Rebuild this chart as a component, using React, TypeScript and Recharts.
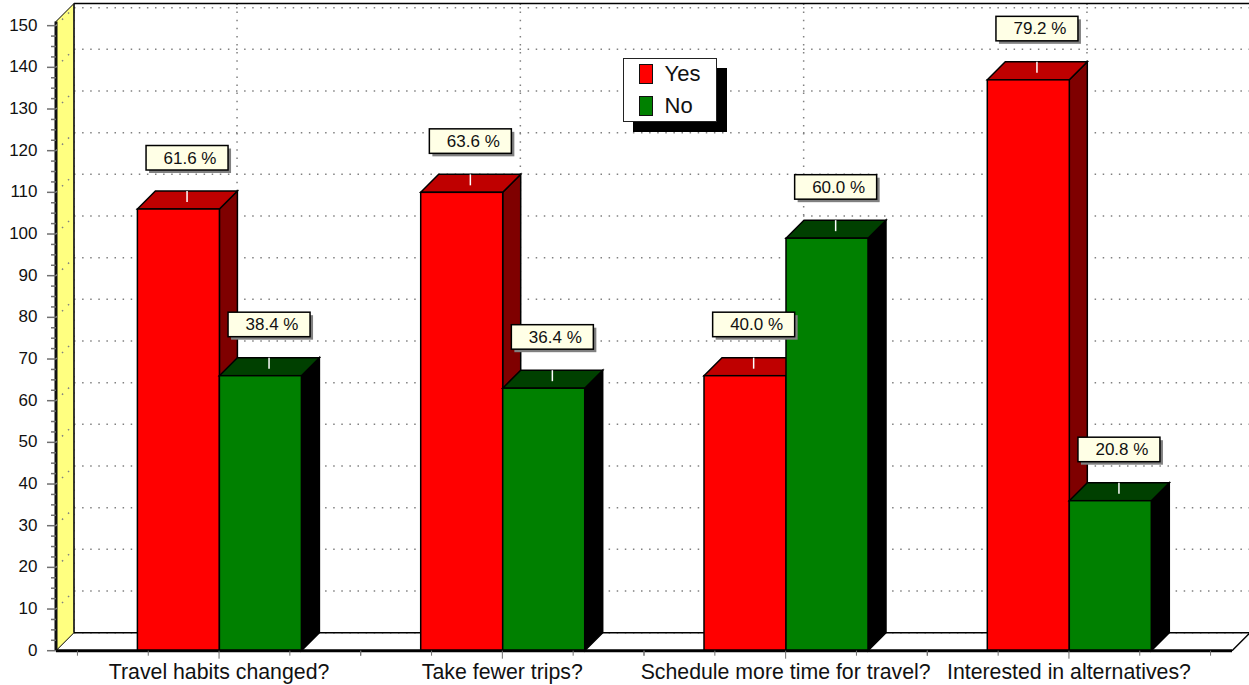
import { BarChart, Bar, XAxis, YAxis, CartesianGrid, Legend, ReferenceDot, Customized } from "recharts"

const categories = ["Travel habits changed?", "Take fewer trips?", "Schedule more time for travel?", "Interested in alternatives?"]
const yesCounts = [106, 110, 66, 137]
const noCounts = [66, 63, 99, 36]
const yesShare = ["61.6 %", "63.6 %", "40.0 %", "79.2 %"]
const noShare = ["38.4 %", "36.4 %", "60.0 %", "20.8 %"]
const gridValues = [0, 10, 20, 30, 40, 50, 60, 70, 80, 90, 100, 110, 120, 130, 140, 150]
// every 2.5 units: the tick renderer labels only the multiples of 10
const axisTicks = Array.from({ length: 61 }, (_, i) => i * 2.5)

const data = categories.map((name, i) => ({ name, yes: yesCounts[i], no: noCounts[i] }))

const WIDTH = 1249
const HEIGHT = 685
const LEFT = 56
const RIGHT = 1232
const TOP = 21.5
const BOTTOM = 650.7
const DEPTH = 18
const BAR_W = 82
const FONT = '"Liberation Sans", Arial, sans-serif'
const DOTS = { stroke: "#808080", strokeWidth: 1.5, strokeDasharray: "1.5 6.6" }

function Bar3D({ x, y, width, height, fill, top, side }: any) {
  const d = DEPTH
  return (
    <g stroke="#000" strokeWidth={1.5} strokeLinejoin="miter">
      <polygon points={`${x + width},${y} ${x + width + d},${y - d} ${x + width + d},${y + height - d} ${x + width},${y + height}`} fill={side} />
      <polygon points={`${x},${y} ${x + d},${y - d} ${x + width + d},${y - d} ${x + width},${y}`} fill={top} />
      <rect x={x} y={y} width={width} height={height} fill={fill} />
    </g>
  )
}

// side wall, floor and the frame behind the bars
function Room() {
  return (
    <g>
      <polygon points={`${LEFT},${BOTTOM} ${LEFT + DEPTH},${BOTTOM - DEPTH} ${LEFT + DEPTH},${TOP - DEPTH} ${LEFT},${TOP}`} fill="#ffff80" stroke="#000" strokeWidth={1} />
      <line x1={LEFT + DEPTH} y1={TOP - DEPTH} x2={WIDTH} y2={TOP - DEPTH} stroke="#000" strokeWidth={1.5} />
      <line x1={LEFT + DEPTH} y1={TOP - DEPTH} x2={LEFT + DEPTH} y2={BOTTOM - DEPTH} stroke="#222" strokeWidth={1.5} />
      <line x1={LEFT + DEPTH} y1={BOTTOM - DEPTH} x2={WIDTH} y2={BOTTOM - DEPTH} stroke="#000" strokeWidth={1.5} />
      <line x1={RIGHT} y1={BOTTOM} x2={RIGHT + DEPTH} y2={BOTTOM - DEPTH} stroke="#000" strokeWidth={1.5} />
    </g>
  )
}

// grid lines sit on the back wall, so they are pushed back by the chart depth
function BackRowLine({ y1 }: any) {
  return <line x1={LEFT + DEPTH} x2={WIDTH} y1={y1 - DEPTH} y2={y1 - DEPTH} {...DOTS} />
}

function BackColumnLine({ x1 }: any) {
  return <line x1={x1 + DEPTH} x2={x1 + DEPTH} y1={TOP - DEPTH} y2={BOTTOM - DEPTH} {...DOTS} />
}

function ValueTick({ x, y, payload }: any) {
  const major = payload.value % 10 === 0
  return (
    <g>
      {major && payload.value > 0 && (
        <line x1={x} y1={y} x2={x + DEPTH} y2={y - DEPTH} stroke="#808080" strokeWidth={1.5} strokeDasharray="1.5 7" />
      )}
      <line x1={x - (major ? 9 : 5)} y1={y} x2={x} y2={y} stroke="#707070" strokeWidth={1.5} />
      {major && (
        <text x={x - 18.5} y={y + 5} textAnchor="end" fontFamily={FONT} fontSize={17} fill="#111">
          {payload.value}
        </text>
      )}
    </g>
  )
}

function CategoryTick({ x, y, payload }: any) {
  const step = 70.8
  return (
    <g>
      {[-2, -1, 1, 2].map((k) => (
        <line key={k} x1={x + k * step} y1={y} x2={x + k * step} y2={y + 5} stroke="#707070" strokeWidth={1} />
      ))}
      <line x1={x} y1={y} x2={x} y2={y + 8} stroke="#707070" strokeWidth={1} />
      <text x={x} y={y + 28} textAnchor="middle" fontFamily={FONT} fontSize={21.3} fill="#111">
        {payload.value}
      </text>
    </g>
  )
}

function ShareLabel({ cx, cy, text }: any) {
  const boxX = cx - 32
  const boxY = cy - 63.5
  return (
    <g>
      <rect x={boxX + 3} y={boxY + 3} width={82} height={24.5} fill="#808080" />
      <rect x={boxX} y={boxY} width={82} height={24.5} fill="#ffffe6" stroke="#000" strokeWidth={1.5} />
      <text x={boxX + 17.5} y={boxY + 18} fontFamily={FONT} fontSize={17} fill="#111">
        {text}
      </text>
      <line x1={cx + 9} y1={cy - DEPTH} x2={cx + 9} y2={cy - 7} stroke="#fff" strokeWidth={1.5} />
    </g>
  )
}

function LegendBox({ payload }: any) {
  return (
    <div style={{ position: "relative", width: 94, height: 64, background: "#fff", border: "1.5px solid #222", boxShadow: "10px 10px 0 #000", boxSizing: "border-box" }}>
      {(payload || []).map((entry: any, i: number) => (
        <div key={entry.value} style={{ position: "absolute", left: 14.5, top: 5.5 + i * 31.5, height: 20, display: "flex", alignItems: "center" }}>
          <span style={{ width: 14, height: 20, boxSizing: "border-box", background: entry.color, border: "1.5px solid #111" }} />
          <span style={{ marginLeft: 12, fontFamily: FONT, fontSize: 22, color: "#111" }}>{entry.value}</span>
        </div>
      ))}
    </div>
  )
}

export default function App() {
  return (
    <div style={{ position: "absolute", left: 0, top: 0, width: WIDTH, height: HEIGHT, overflow: "hidden", background: "#fff" }}>
      <BarChart
        width={WIDTH}
        height={HEIGHT}
        data={data}
        barSize={BAR_W}
        barGap={0}
        margin={{ top: TOP, right: WIDTH - RIGHT, bottom: 0, left: 0 }}
      >
        <Customized component={<Room />} />
        <CartesianGrid
          horizontalValues={gridValues}
          horizontal={(p: any) => <BackRowLine key={p.key} {...p} />}
          vertical={(p: any) => <BackColumnLine key={p.key} {...p} />}
        />
        <XAxis
          dataKey="name"
          height={HEIGHT - BOTTOM}
          padding={{ left: 21.4, right: 21.4 }}
          axisLine={{ stroke: "#000", strokeWidth: 3 }}
          tickLine={false}
          tickSize={0}
          tickMargin={0}
          interval={0}
          tick={<CategoryTick />}
        />
        <YAxis
          width={LEFT}
          domain={[0, 151]}
          ticks={axisTicks}
          interval={0}
          axisLine={{ stroke: "#111", strokeWidth: 3 }}
          tickLine={false}
          tickSize={0}
          tickMargin={0}
          tick={<ValueTick />}
        />
        <Bar
          dataKey="yes"
          name="Yes"
          fill="#ff0000"
          isAnimationActive={false}
          shape={(p: any) => <Bar3D {...p} top="#bf0000" side="#7f0000" />}
        />
        <Bar
          dataKey="no"
          name="No"
          fill="#008000"
          isAnimationActive={false}
          shape={(p: any) => <Bar3D {...p} top="#004000" side="#000000" />}
        />
        <Legend
          layout="horizontal"
          verticalAlign="middle"
          align="center"
          itemSorter={null}
          wrapperStyle={{ left: 623, top: 57.5, width: 94, height: 64 }}
          content={<LegendBox />}
        />
        {categories.map((c, i) => (
          <ReferenceDot key={`y-${c}`} x={c} y={yesCounts[i]} shape={(p: any) => <ShareLabel cx={p.cx - BAR_W / 2} cy={p.cy} text={yesShare[i]} />} />
        ))}
        {categories.map((c, i) => (
          <ReferenceDot key={`n-${c}`} x={c} y={noCounts[i]} shape={(p: any) => <ShareLabel cx={p.cx + BAR_W / 2} cy={p.cy} text={noShare[i]} />} />
        ))}
      </BarChart>
    </div>
  )
}
